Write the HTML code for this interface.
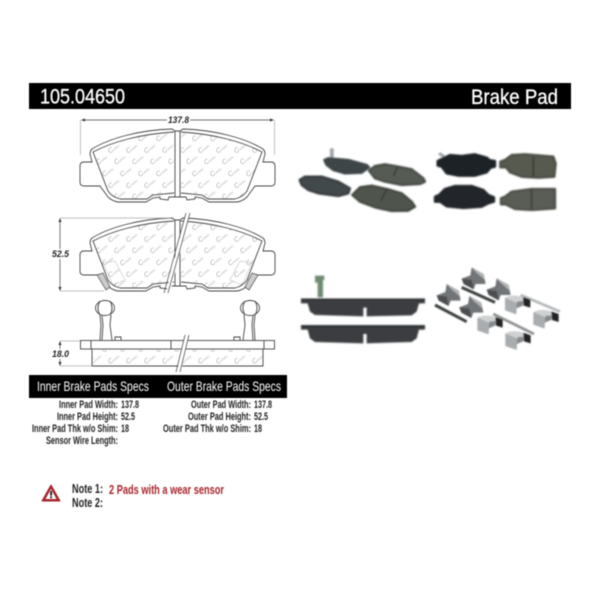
<!DOCTYPE html>
<html>
<head>
<meta charset="utf-8">
<style>
html,body{margin:0;padding:0;background:#fff;width:600px;height:600px;overflow:hidden}
svg{display:block;filter:blur(.4px)}
text{font-family:"Liberation Sans",sans-serif}
.s{font-size:11px;fill:#222;font-weight:bold}
.d{font-size:9.5px;font-weight:bold;font-style:italic;fill:#222}
.l{fill:none;stroke:#444;stroke-width:.9}
.g{fill:none;stroke:#aaa;stroke-width:.7}
.p{stroke-width:7;stroke-linejoin:round}
.w{font-size:3px;font-style:italic;fill:#a8a8a8}
.w tspan{font-size:7px}
</style>
</head>
<body>
<svg width="600" height="600" viewBox="0 0 600 600" xmlns="http://www.w3.org/2000/svg">
<defs>
  <filter id="b" x="-10%" y="-10%" width="120%" height="120%"><feGaussianBlur stdDeviation="2.2"/></filter>
  <filter id="b2" x="-10%" y="-10%" width="120%" height="120%"><feGaussianBlur stdDeviation="1.2"/></filter>
  <pattern id="wm" width="18" height="35.1" patternUnits="userSpaceOnUse" patternTransform="translate(84,130)">
    <text class="w" x="2" y="12" transform="rotate(-38 2 12)"><tspan>C</tspan>entric</text>
    <text class="w" x="8" y="23.700" transform="rotate(-38 8 23.700)"><tspan>C</tspan>entric</text>
    <text class="w" x="14" y="35" transform="rotate(-38 14 35)"><tspan>C</tspan>entric</text>
    <text class="w" x="-4" y="35" transform="rotate(-38 -4 35)"><tspan>C</tspan>entric</text>
  </pattern>
  <path id="fr" d="M93,152 C112,142 140,134 174,132 L174,193 L170,194 L160,194 L153,195 L147,199 L120,199 Q112,197 108,191 Z"/>
  <clipPath id="cf">
    <use href="#fr"/>
    <use href="#fr" transform="matrix(-1 0 0 1 355 0)"/>
  </clipPath>
  <g id="half">
    <path class="l" d="M172,129 C140,130 110,138 92,149 Q90,151 90,154 L92,162 L84,162 Q80,162 80,166 L80,182 Q80,186 84,186 L100,186 L108,197 Q112,201 118,202 L146,202 L153,198 L160,197 L160,199 L168,200 L169,197 L175,197 L175,131 L172,129 Z"/>
    <path class="l" d="M174,132 C140,134 112,142 93,152 L108,191 Q112,197 120,199 L147,199 L153,195 L174,193"/>
  </g>
  <g id="pad">
    <rect x="84" y="128" width="187" height="75" fill="url(#wm)" clip-path="url(#cf)"/>
    <use href="#half"/>
    <use href="#half" transform="matrix(-1 0 0 1 355 0)"/>
    <path class="l" d="M175,131 L180,131 M175,197 L180,197"/>
  </g>
  <g id="clipA">
    <path d="M30,0 L66,20 L72,50 L42,50 L36,66 L6,50 L0,34 L26,24 Z" fill="#717477"/>
    <path d="M30,0 L66,20 L70,38 L42,14 Z" fill="#b0b3b5"/>
    <path d="M0,34 L30,38 L36,66 L6,50 Z" fill="#4c4e50"/>
  </g>
  <g id="clipB">
    <path d="M0,8 L36,20 L34,58 L0,46 Z" fill="#a9adaf"/>
    <path d="M0,8 Q24,-4 54,6 L56,20 L36,24 Z" fill="#cfd1d2"/>
    <path d="M54,6 L76,14 L76,38 L56,32 Z" fill="#222"/>
    <path d="M36,20 L56,18 L54,32 L34,40 Z" fill="#85898b"/>
  </g>
  <g id="sensor">
    <ellipse cx="105" cy="308" rx="9.500" ry="7.500" fill="#fff" stroke="#444" stroke-width=".9"/>
    <path class="l" d="M100,301 Q96,308 100,315 M110,301 Q114,308 110,315"/>
    <path class="l" d="M100,315 L101,325 L100,340 M102,315 L103,325 L102,340 M111,315 L110,325 L112,340"/>
    <path class="g" stroke-dasharray="1 1" d="M101,342 L111,342 M101,345 L111,345 M101,348 L111,348"/>
  </g>
</defs>

<!-- headers -->
<rect x="29" y="83" width="542" height="26" fill="#000"/>
<text x="40" y="103.500" font-size="21" fill="#fff" stroke="#fff" stroke-width=".3" textLength="85" lengthAdjust="spacingAndGlyphs">105.04650</text>
<text x="471" y="104" font-size="21" fill="#fff" stroke="#fff" stroke-width=".3" textLength="87" lengthAdjust="spacingAndGlyphs">Brake Pad</text>

<!-- dimension top -->
<path class="g" d="M80.500,120 V155 M274.500,120 V155"/>
<path d="M82,120 H167 M190,120 H273" stroke="#444" stroke-width=".7"/>
<path d="M81,120 L85,118.500 L85,121.500 Z M274,120 L270,118.500 L270,121.500 Z" fill="#333"/>
<text x="168" y="123" class="d" textLength="21" lengthAdjust="spacingAndGlyphs">137.8</text>

<!-- pad 1 -->
<use href="#pad"/>

<!-- pad 2 -->
<use href="#pad" transform="translate(0,89)"/>
<path class="g" d="M60,218 H171 M60,291 H104"/>
<path d="M60,219 V290" stroke="#444" stroke-width=".7"/>
<path d="M60,218 L58.500,222 L61.500,222 Z M60,291 L58.500,287 L61.500,287 Z" fill="#333"/>
<rect x="50" y="249" width="20" height="10" fill="#fff"/>
<text x="52" y="257" class="d" textLength="17" lengthAdjust="spacingAndGlyphs">52.5</text>
<path d="M97,275 L103,273 L110,287 L106,290 Z" fill="#ccc" stroke="#444" stroke-width=".7"/>
<path d="M258,275 L252,273 L245,287 L249,290 Z" fill="#ccc" stroke="#444" stroke-width=".7"/>
<path class="g" stroke-dasharray="1.500 1" d="M103,263 L115,261 L125,280 L113,285 Z M252,263 L240,261 L230,280 L242,285 Z"/>

<!-- break top -->
<path d="M186,213 L190,213 L170,293 L166,293 Z" fill="#fff"/>
<path d="M186,213 L164,293 M190,213 L168,293" stroke="#555" stroke-width=".8"/>

<!-- side view -->
<use href="#sensor"/>
<use href="#sensor" transform="matrix(-1 0 0 1 355 0)"/>
<rect x="80.500" y="340.500" width="194" height="8.500" fill="#fff" stroke="#444" stroke-width=".9"/>
<path class="l" d="M91,340.500 V349 M264,340.500 V349 M171,340.500 V349 M184,340.500 V349"/>
<path class="l" d="M115,340 V337 H121 V340 M234,340 V337 H240 V340"/>
<rect x="92" y="349" width="171" height="17" fill="url(#wm)"/>
<path class="l" d="M92,349 V366 H263 V349"/>
<path d="M185,335 L189,335 L181,372 L177,372 Z" fill="#fff"/>
<path d="M185,335 L176,372 M189,335 L180,372" stroke="#555" stroke-width=".8"/>
<path class="g" d="M60,341 H80 M60,366 H92"/>
<path d="M60,342 V365" stroke="#444" stroke-width=".7"/>
<path d="M60,341 L58.500,345 L61.500,345 Z M60,366 L58.500,362 L61.500,362 Z" fill="#333"/>
<rect x="50" y="349" width="22" height="10" fill="#fff"/>
<text x="52" y="357" class="d" textLength="17" lengthAdjust="spacingAndGlyphs">18.0</text>

<!-- spec bar -->
<rect x="29" y="375" width="258" height="23" fill="#000"/>
<text x="37" y="391" font-size="14" fill="#fff" textLength="112" lengthAdjust="spacingAndGlyphs">Inner Brake Pads Specs</text>
<text x="167" y="391" font-size="14" fill="#fff" textLength="114" lengthAdjust="spacingAndGlyphs">Outer Brake Pads Specs</text>

<text x="59" y="408" class="s" textLength="59" lengthAdjust="spacingAndGlyphs">Inner Pad Width:</text>
<text x="121" y="408" class="s" textLength="18" lengthAdjust="spacingAndGlyphs">137.8</text>
<text x="57" y="420" class="s" textLength="61" lengthAdjust="spacingAndGlyphs">Inner Pad Height:</text>
<text x="121" y="420" class="s" textLength="14" lengthAdjust="spacingAndGlyphs">52.5</text>
<text x="32" y="432" class="s" textLength="86" lengthAdjust="spacingAndGlyphs">Inner Pad Thk w/o Shim:</text>
<text x="121" y="432" class="s" textLength="8" lengthAdjust="spacingAndGlyphs">18</text>
<text x="46" y="444" class="s" textLength="72" lengthAdjust="spacingAndGlyphs">Sensor Wire Length:</text>

<text x="191" y="408" class="s" textLength="60" lengthAdjust="spacingAndGlyphs">Outer Pad Width:</text>
<text x="254" y="408" class="s" textLength="18" lengthAdjust="spacingAndGlyphs">137.8</text>
<text x="188" y="420" class="s" textLength="63" lengthAdjust="spacingAndGlyphs">Outer Pad Height:</text>
<text x="254" y="420" class="s" textLength="14" lengthAdjust="spacingAndGlyphs">52.5</text>
<text x="163" y="432" class="s" textLength="88" lengthAdjust="spacingAndGlyphs">Outer Pad Thk w/o Shim:</text>
<text x="254" y="432" class="s" textLength="8" lengthAdjust="spacingAndGlyphs">18</text>

<!-- notes -->
<path d="M51,485 L60,501 L42,501 Z" fill="#a8252c" stroke="#a8252c" stroke-width="1" stroke-linejoin="round"/>
<path d="M51,489 L56.500,499 L45.500,499 Z" fill="#fff"/>
<rect x="50.200" y="491" width="1.800" height="4.500" fill="#111"/>
<rect x="50.200" y="496.300" width="1.800" height="1.800" fill="#111"/>
<text x="72" y="493" font-size="12.500" font-weight="bold" fill="#222" textLength="31" lengthAdjust="spacingAndGlyphs">Note 1:</text>
<text x="72" y="507" font-size="12.500" font-weight="bold" fill="#222" textLength="31" lengthAdjust="spacingAndGlyphs">Note 2:</text>
<text x="109" y="494" font-size="12.500" font-weight="bold" fill="#a8252c" textLength="115" lengthAdjust="spacingAndGlyphs">2 Pads with a wear sensor</text>

<!-- photo 1 -->
<g transform="translate(295,130) scale(.3333)">
  <g filter="url(#b)">
    <rect x="105" y="55" width="11" height="36" fill="#9ba3a6"/>
    <path class="p" fill="#3d4446" stroke="#3d4446" d="M88,90 L100,85 L160,90 L215,105 L222,112 L200,128 L150,130 L115,120 L95,105Z"/>
    <path class="p" fill="#565b52" stroke="#4a4e48" d="M222,122 L240,108 L270,103 L310,110 L350,118 L385,145 L390,155 L375,162 L320,165 L270,155 L240,145Z"/>
    <path class="p" fill="#43494b" stroke="#393e40" d="M14,150 L30,140 L80,140 L130,155 L165,175 L160,190 L130,198 L70,190 L40,180 L20,165Z"/>
    <path class="p" fill="#50554d" stroke="#44483f" d="M172,195 L195,172 L230,167 L280,178 L320,190 L350,215 L360,230 L340,242 L290,243 L240,232 L195,215Z"/>
    <path d="M307,112 L295,138 M275,178 L258,212" stroke="#222" stroke-width="3" fill="none"/>
  </g>
</g>

<!-- photo 2 -->
<g transform="translate(425,135) scale(.3333)">
  <g filter="url(#b)">
    <path d="M42,55 L65,70" stroke="#9aa3a6" stroke-width="9"/>
    <path class="p" fill="#1f2426" stroke="#1f2426" d="M38,78 L50,72 L75,60 L110,63 L150,58 L185,68 L195,76 L210,78 L210,95 L197,98 L185,112 L150,122 L100,122 L65,115 L50,95 L38,92Z"/>
    <path class="p" fill="#565a50" stroke="#4c5047" d="M226,80 L240,75 L260,60 L300,58 L385,65 L392,85 L388,125 L340,128 L290,125 L255,112 L243,97 L226,97Z"/>
    <path class="p" fill="#23282b" stroke="#23282b" d="M30,185 L42,180 L60,162 L90,153 L140,153 L175,165 L190,180 L207,187 L207,200 L190,205 L170,215 L115,219 L65,214 L45,200 L30,200Z"/>
    <path class="p" fill="#5a5d55" stroke="#4e5149" d="M228,190 L240,185 L260,170 L320,162 L390,162 L390,220 L320,225 L270,222 L242,208 L228,208Z"/>
    <path d="M325,65 V125 M320,162 V222" stroke="#222" stroke-width="3"/>
  </g>
</g>

<!-- photo 3 -->
<g transform="translate(295,260) scale(.3333)">
  <g filter="url(#b)">
    <path d="M60,47 H88 V60 H84 V112 H68 V68 H60 Z" fill="#6f8a70"/>
    <path d="M18,116 H390 V130 H372 L365,155 L350,166 L215,169 V143 H205 V169 L60,165 L45,155 L38,130 H18Z" fill="#3a3e40"/>
    <path d="M18,196 H390 V209 H372 L365,235 L350,246 L215,250 V222 H205 V250 L60,246 L45,235 L38,209 H18Z" fill="#3a3e40"/>
    <path d="M18,118 H390 M18,198 H390" stroke="#26292b" stroke-width="5"/>
  </g>
</g>

<!-- photo 4 hardware -->
<g transform="translate(430,260) scale(.3333)">
  <g filter="url(#b2)">
    <path d="M95,82 L195,127" stroke="#3d3f41" stroke-width="9"/>
    <path d="M15,135 L110,185" stroke="#3d3f41" stroke-width="9"/>
    <use href="#clipA" transform="translate(95,22)"/>
    <use href="#clipA" transform="translate(170,55)"/>
    <use href="#clipA" transform="translate(20,72)"/>
    <use href="#clipA" transform="translate(88,108)"/>
    <path d="M272,105 L390,155" stroke="#b5b8ba" stroke-width="8"/>
    <path d="M190,162 L312,222" stroke="#8e9193" stroke-width="8"/>
    <use href="#clipB" transform="translate(225,105)"/>
    <use href="#clipB" transform="translate(310,148)"/>
    <use href="#clipB" transform="translate(142,165)"/>
    <use href="#clipB" transform="translate(226,212)"/>
  </g>
</g>
</svg>
</body>
</html>
